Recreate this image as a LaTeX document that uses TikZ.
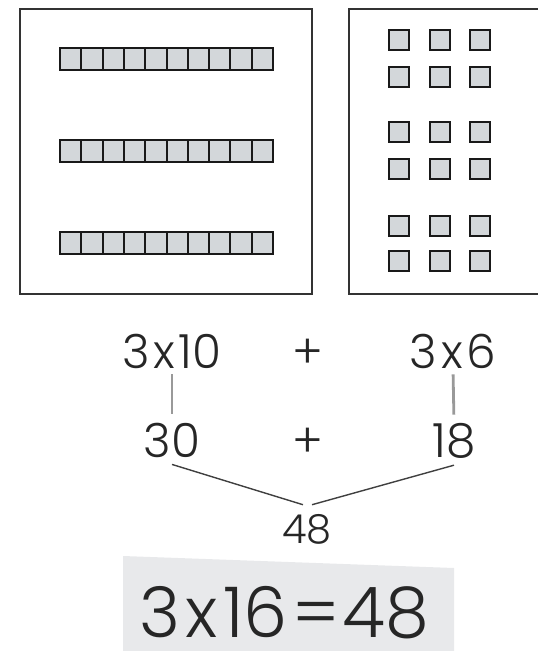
\documentclass[tikz,border=0pt]{standalone}
\usepackage{fontspec}
\setmainfont{Poppins}[UprightFont={* Light}]
\definecolor{cellgrey}{HTML}{D3D7DA}
\definecolor{bandgrey}{HTML}{E8E9EB}
\newcommand{\tm}{\hspace{0.08em}x\hspace{0.08em}}

\begin{document}
\begin{tikzpicture}[
                x=1pt,y=-1pt,
                boxframe/.style={draw=black!80,line width=2pt},
                unitcell/.style={draw=black!90,fill=cellgrey,line width=2pt},
                stemline/.style={draw=black!40,line width=2.8pt},
                sumline/.style={draw=black!75,line width=1.4pt},
                every node/.append style={inner sep=0pt,anchor=base,text=black!85}
            ]
                \useasboundingbox (0,0) rectangle (538,651);

                % the two boxes
                \draw[boxframe] (20,9) rectangle (312,294);
                \draw[boxframe] (538,9) -- (349,9) -- (349,294) -- (538,294);

                % three rows of ten
                \foreach \y in {48,140,232}
                    \foreach \i in {0,...,9}
                        \draw[unitcell] ({60+21.3*\i},\y) rectangle ++(21.3,22);

                % three groups of six
                \foreach \y in {30,67,122,159,216,251}
                    \foreach \x in {389,429.5,470}
                        \draw[unitcell] (\x,\y) rectangle ++(20,19.5);

                % band behind the result
                \fill[bandgrey] (123,556) -- (454,568) -- (454,651) -- (123,651) -- cycle;

                \fontsize{47}{50}\selectfont
                \node (p1) at (172,368) {3\tm10};
                \node (plus1) at (308,368) {+};
                \node (p2) at (453,368) {3\tm6};
                \node (v1) at (172,457) {30};
                \node (plus2) at (308,457) {+};
                \node (v2) at (454,457) {18};
                \node[font=\fontsize{40}{44}\selectfont] (sum) at (307,543) {48};
                \node[font=\fontsize{70}{74}\selectfont] (res) at (284,637) {3\tm16\hspace{0.06em}=\hspace{0.04em}48};

                \draw[stemline,shorten <=6pt,shorten >=8pt] (p1.south) -- (v1.north);
                \draw[stemline,shorten <=6pt,shorten >=8pt] (p2.south) -- (v2.north);
                \draw[sumline] ([yshift=-7pt]v1.south) -- ([xshift=-4pt,yshift=9pt]sum.north);
                \draw[sumline] ([yshift=-7pt]v2.south) -- ([xshift=5pt,yshift=9pt]sum.north);
            \end{tikzpicture}
\end{document}
